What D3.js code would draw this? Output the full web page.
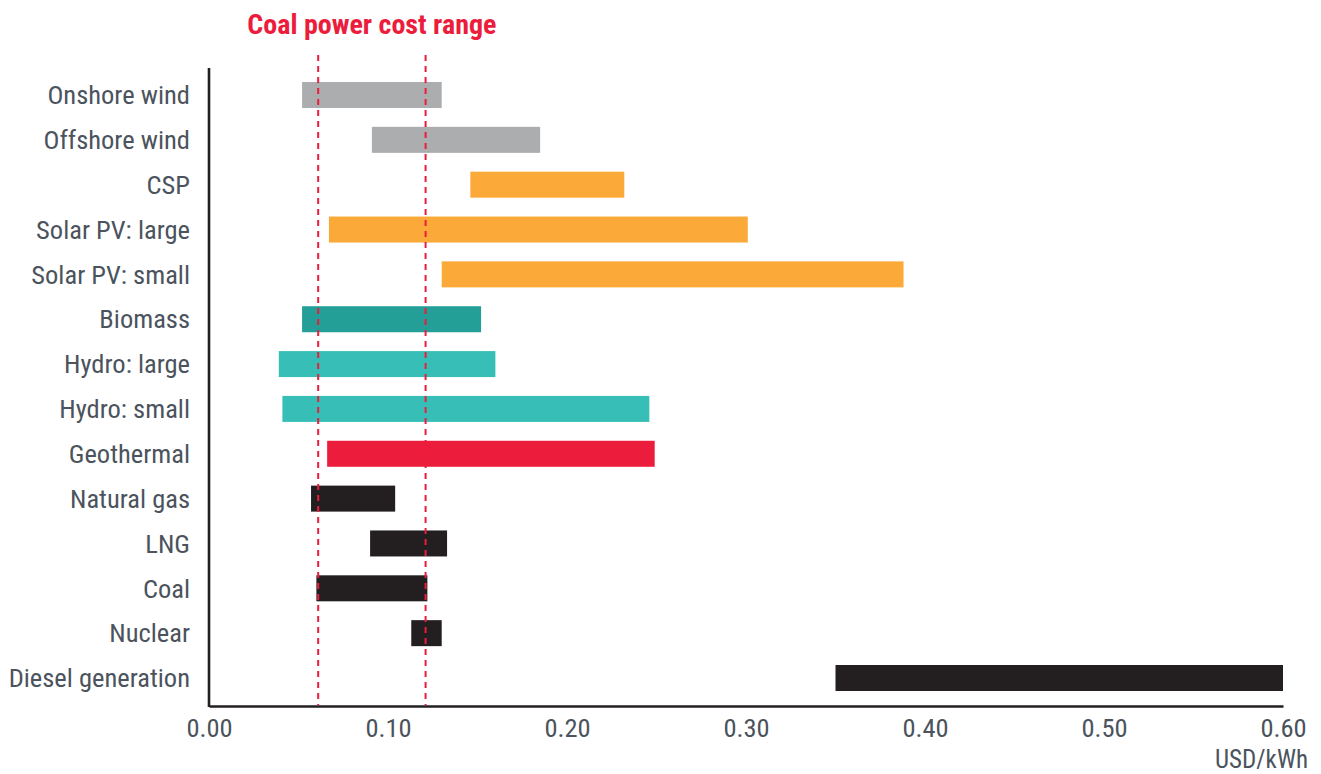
<!DOCTYPE html>
<html><head><meta charset="utf-8">
<script src="https://cdn.jsdelivr.net/npm/d3@7"></script>
<style>
html,body{margin:0;padding:0;background:#fff;}
text{font-family:"Liberation Sans Narrow","Arial Narrow","Roboto Condensed",sans-serif;}
</style></head>
<body><svg id="c" width="1321" height="774"></svg>
<script>
const categories = ["Onshore wind","Offshore wind","CSP","Solar PV: large","Solar PV: small","Biomass","Hydro: large","Hydro: small","Geothermal","Natural gas","LNG","Coal","Nuclear","Diesel generation"];
const lowValues  = [0.052,0.091,0.146,0.067,0.130,0.052,0.039,0.041,0.066,0.057,0.090,0.060,0.113,0.350];
const highValues = [0.130,0.185,0.232,0.301,0.388,0.152,0.160,0.246,0.249,0.104,0.133,0.122,0.130,0.600];
const groups     = ["wind","wind","solar","solar","solar","biomass","hydro","hydro","geo","fossil","fossil","fossil","fossil","fossil"];
const coalRange  = [0.061,0.121];
const xTicks     = [0,0.1,0.2,0.3,0.4,0.5,0.6];
const colors = {wind:"#acadaf",solar:"#fbaa3a",biomass:"#239f98",hydro:"#37bfb7",geo:"#ec1c3c",fossil:"#231f20"};
const textColor = "#4b535d";

const svg = d3.select("#c");
const x = d3.scaleLinear().domain([0,0.6]).range([209,1283]);
const y = d3.scalePoint().domain(categories).range([95,678]);
const barH = 26;
const data = categories.map((c,i)=>({c,lo:lowValues[i],hi:highValues[i],g:groups[i]}));

// bars
svg.append("g").selectAll("rect").data(data).join("rect")
  .attr("x",d=>x(d.lo)).attr("width",d=>x(d.hi)-x(d.lo))
  .attr("y",d=>y(d.c)-barH/2).attr("height",barH)
  .attr("fill",d=>colors[d.g]);

// dashed coal lines
svg.append("g").selectAll("line").data(coalRange).join("line")
  .attr("x1",d=>x(d)).attr("x2",d=>x(d)).attr("y1",55).attr("y2",705)
  .attr("stroke","#ec1c3c").attr("stroke-width",2).attr("stroke-dasharray","6,5");

// axes
const xAxis = d3.axisBottom(x).tickValues(xTicks).tickFormat(d3.format(".2f")).tickSize(0).tickPadding(12);
const gx = svg.append("g").attr("transform","translate(0,706)").call(xAxis);
gx.select(".domain").attr("stroke","#231f20").attr("stroke-width",2.6);
gx.selectAll("text").attr("font-size",26.5).attr("fill",textColor).attr("dy","0.72em")
  .attr("font-family",'"Liberation Sans Narrow","Arial Narrow","Roboto Condensed",sans-serif');

const yAxis = d3.axisLeft(y).tickSize(0).tickPadding(19);
const gy = svg.append("g").attr("transform","translate(209,0)").call(yAxis);
gy.select(".domain").attr("d","M0,68V707").attr("stroke","#231f20").attr("stroke-width",2.6);
gy.selectAll("text").attr("font-size",26.5).attr("fill",textColor).attr("dy","0.33em")
  .attr("font-family",'"Liberation Sans Narrow","Arial Narrow","Roboto Condensed",sans-serif');

// title
svg.append("text").attr("x",(x(coalRange[0])+x(coalRange[1]))/2).attr("y",34)
  .attr("text-anchor","middle").attr("font-size",28).attr("font-weight","bold")
  .attr("fill","#ec1c3c").text("Coal power cost range");

// unit
svg.append("text").attr("x",1308).attr("y",767.5).attr("text-anchor","end")
  .attr("font-size",25).attr("fill",textColor).text("USD/kWh");
</script></body></html>
